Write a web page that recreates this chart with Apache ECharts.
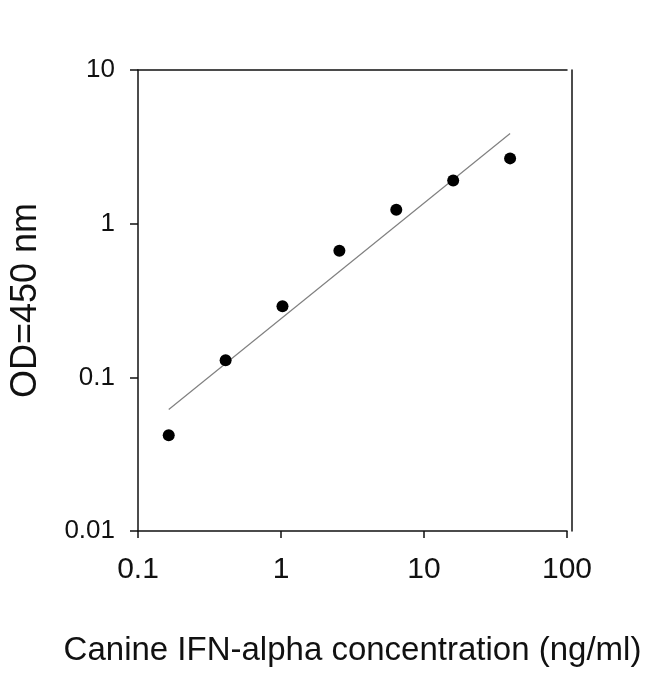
<!DOCTYPE html>
<html>
<head>
<meta charset="utf-8">
<script src="https://cdn.jsdelivr.net/npm/echarts@6/dist/echarts.min.js"></script>
<style>
	html, body { margin: 0; padding: 0; background: #fff; }
	#chart { width: 650px; height: 674px; }
</style>
</head>
<body>
<div id="chart"></div>
<script>
// concentration (ng/ml), 2.5-fold dilution series
var concentration = [0.164, 0.41, 1.024, 2.56, 6.4, 16, 40];
// OD at 450 nm
var od = [0.042, 0.129, 0.29, 0.667, 1.23, 1.91, 2.66];

// fitted line end points
var fitX = [0.164, 40];
var fitY = [0.0617, 3.86];

var xTickLabels = ['0.1', '1', '10', '100'];
var yTickLabels = ['0.01', '0.1', '1', '10'];

var font = '"Liberation Sans", Arial, sans-serif';
var ink = '#111';

var points = concentration.map(function(c, i) { return [c, od[i]]; });
var fitLine = fitX.map(function(x, i) { return [x, fitY[i]]; });

var myChart = echarts.init(document.getElementById('chart'));

var option = {
	backgroundColor: '#fff',
	animation: false,
	grid: {
		left: 136,
		right: 83,
		top: 70,
		bottom: 143
	},
	xAxis: [{
		type: 'log',
		logBase: 10,
		min: 0.1,
		max: 100,
		position: 'bottom',
		name: 'Canine IFN-alpha concentration (ng/ml)',
		nameLocation: 'middle',
		nameGap: 103,
		nameTextStyle: { fontFamily: font, fontSize: 33, color: ink },
		axisLine: { lineStyle: { color: ink, width: 1.5 } },
		axisTick: { show: true, length: 7, lineStyle: { color: ink, width: 1.5 } },
		axisLabel: {
			margin: 24,
			fontFamily: font,
			fontSize: 30,
			color: ink,
			formatter: function(v, i) { return xTickLabels[i]; }
		},
		splitLine: { show: false },
		minorTick: { show: false }
	}, {
		type: 'log',
		logBase: 10,
		min: 0.1,
		max: 100,
		position: 'top',
		axisLine: { show: true, lineStyle: { color: ink, width: 1.5 } },
		axisTick: { show: false },
		axisLabel: { show: false },
		splitLine: { show: false }
	}],
	yAxis: [{
		type: 'log',
		logBase: 10,
		min: 0.01,
		max: 10,
		position: 'left',
		name: 'OD=450 nm',
		nameLocation: 'middle',
		nameGap: 94,
		nameRotate: 90,
		nameTextStyle: { fontFamily: font, fontSize: 36, color: ink },
		axisLine: { lineStyle: { color: ink, width: 1.5 } },
		axisTick: { show: true, length: 8, lineStyle: { color: ink, width: 1.5 } },
		axisLabel: {
			margin: 23,
			fontFamily: font,
			fontSize: 26,
			color: ink,
			formatter: function(v, i) { return yTickLabels[i]; }
		},
		splitLine: { show: false }
	}, {
		type: 'log',
		logBase: 10,
		min: 0.01,
		max: 10,
		position: 'right',
		offset: 5,
		axisLine: { show: true, lineStyle: { color: ink, width: 1.5 } },
		axisTick: { show: false },
		axisLabel: { show: false },
		splitLine: { show: false }
	}],
	series: [{
		name: 'fit',
		type: 'line',
		data: fitLine,
		symbol: 'none',
		lineStyle: { color: '#808080', width: 1.2 },
		z: 2
	}, {
		name: 'OD',
		type: 'scatter',
		data: points,
		symbol: 'circle',
		symbolSize: 12,
		itemStyle: { color: '#000', opacity: 1 },
		z: 3
	}]
};

myChart.setOption(option, true);
</script>
</body>
</html>
